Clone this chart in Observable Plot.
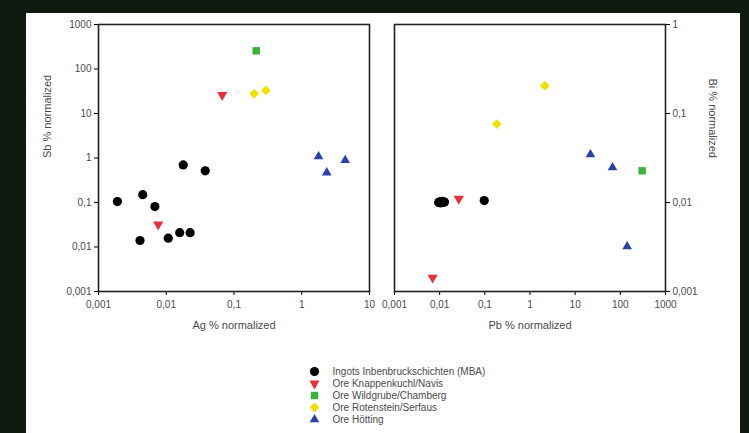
<!DOCTYPE html>
<html>
<head>
<meta charset="utf-8">
<script src="https://cdn.jsdelivr.net/npm/d3@7"></script>
<script src="https://cdn.jsdelivr.net/npm/@observablehq/plot@0.6"></script>
<style>
  html, body { margin: 0; padding: 0; }
  body { width: 749px; height: 433px; background: #0e1a10; position: relative; overflow: hidden; font-family: "Liberation Sans", Arial, sans-serif; }
  #panel { position: absolute; left: 26px; top: 13px; width: 714px; height: 420px; background: #ffffff; }
  .plot { position: absolute; top: 0; }
  #left { left: 0px; }
  #right { left: 380px; }
  #legend { position: absolute; left: 300px; top: 360px; }
</style>
</head>
<body>
<div id="panel"></div>
<div id="left" class="plot"></div>
<div id="right" class="plot"></div>
<div id="legend"></div>
<script>
// ---- series ----
const seriesNames = [
  "Ingots Inbenbruckschichten (MBA)",
  "Ore Knappenkuchl/Navis",
  "Ore Wildgrube/Chamberg",
  "Ore Rotenstein/Serfaus",
  "Ore Hötting"
];
const seriesColors = ["#000000", "#e8303a", "#3db33d", "#f2e000", "#2a42a6"];

// ---- left panel: Ag vs Sb ----
const agBlack  = [0.0019, 0.0045, 0.0068, 0.0041, 0.0107, 0.0158, 0.0225, 0.0178, 0.0376];
const sbBlack  = [0.105, 0.15, 0.081, 0.014, 0.0158, 0.021, 0.021, 0.70, 0.515];
const agRed    = [0.067, 0.0076];
const sbRed    = [26, 0.032];
const agGreen  = [0.213];
const sbGreen  = [256];
const agYellow = [0.199, 0.295];
const sbYellow = [27.7, 32.9];
const agBlue   = [1.77, 2.34, 4.38];
const sbBlue   = [1.08, 0.47, 0.89];

// ---- right panel: Pb vs Bi ----
const pbBlack  = [0.0095, 0.0100, 0.0104, 0.0108, 0.0112, 0.0117, 0.0122, 0.0128, 0.097];
const biBlack  = [0.0100, 0.0102, 0.0099, 0.0101, 0.0103, 0.0100, 0.0102, 0.0101, 0.0105];
const pbRed    = [0.0265, 0.0070];
const biRed    = [0.011, 0.00143];
const pbGreen  = [304];
const biGreen  = [0.0227];
const pbYellow = [2.13, 0.184];
const biYellow = [0.205, 0.076];
const pbBlue   = [21.8, 67, 141.6];
const biBlue   = [0.0346, 0.0247, 0.0032];

// ---- ticks ----
const agTicks = [0.001, 0.01, 0.1, 1, 10];
const agTickLabels = ["0,001", "0,01", "0,1", "1", "10"];
const sbTicks = [0.001, 0.01, 0.1, 1, 10, 100, 1000];
const sbTickLabels = ["0,001", "0,01", "0,1", "1", "10", "100", "1000"];
const pbTicks = [0.001, 0.01, 0.1, 1, 10, 100, 1000];
const pbTickLabels = ["0,001", "0,01", "0,1", "1", "10", "100", "1000"];
const biTicks = [0.001, 0.01, 0.1, 1];
const biTickLabels = ["0,001", "0,01", "0,1", "1"];

// ---- symbols ----
const triangleDown = {
  draw(context, size) {
    const y = -Math.sqrt(size / (Math.sqrt(3) * 3));
    const s3 = Math.sqrt(3);
    context.moveTo(0, -y * 2);
    context.lineTo(-s3 * y, y);
    context.lineTo(s3 * y, y);
    context.closePath();
  }
};
const seriesSymbols = ["circle", triangleDown, "square", "diamond2", "triangle"];
const seriesR = [4.6, 3.8, 4.2, 4.4, 3.6];

function rows(xs, ys, s) { return xs.map((x, i) => ({x, y: ys[i], s})); }

const leftData = [
  rows(agBlack, sbBlack, 0), rows(agRed, sbRed, 1), rows(agGreen, sbGreen, 2),
  rows(agYellow, sbYellow, 3), rows(agBlue, sbBlue, 4)
];
const rightData = [
  rows(pbBlack, biBlack, 0), rows(pbRed, biRed, 1), rows(pbGreen, biGreen, 2),
  rows(pbYellow, biYellow, 3), rows(pbBlue, biBlue, 4)
];

function fmt(ticks, labels) { return d => { const i = ticks.findIndex(t => Math.abs(Math.log10(t) - Math.log10(d)) < 1e-6); return i >= 0 ? labels[i] : ""; }; }

const textColor = "#4a4a4a";
const baseStyle = {background: "transparent", fontFamily: "Liberation Sans, Arial, sans-serif", fontSize: "10px", color: "#000", overflow: "visible"};

function dotMarks(data) {
  return data.map((d, i) => Plot.dot(d, {x: "x", y: "y", symbol: seriesSymbols[i], r: seriesR[i], fill: seriesColors[i], stroke: "none"}));
}

const left = Plot.plot({
  width: 380, height: 340,
  marginLeft: 98, marginRight: 11, marginTop: 24, marginBottom: 49,
  style: baseStyle,
  x: {type: "log", domain: [0.001, 10]},
  y: {type: "log", domain: [0.001, 1000]},
  marks: [
    Plot.axisX({ticks: agTicks, tickFormat: fmt(agTicks, agTickLabels), tickSize: 4, tickPadding: 5, label: null, fill: textColor}),
    Plot.axisY({ticks: sbTicks, tickFormat: fmt(sbTicks, sbTickLabels), tickSize: 4, tickPadding: 3, label: null, fill: textColor}),
    ...dotMarks(leftData),
    Plot.frame({stroke: "#222", strokeWidth: 1.6}),
    Plot.text(["Ag % normalized"], {text: d => d, frameAnchor: "bottom", dy: 37, fill: textColor, fontSize: 11}),
    Plot.text(["Sb % normalized"], {text: d => d, frameAnchor: "left", dx: -51, rotate: -90, fill: textColor, fontSize: 11})
  ]
});
document.getElementById("left").appendChild(left);

const right = Plot.plot({
  width: 369, height: 340,
  marginLeft: 14, marginRight: 84, marginTop: 24, marginBottom: 49,
  style: baseStyle,
  x: {type: "log", domain: [0.001, 1000]},
  y: {type: "log", domain: [0.001, 1]},
  marks: [
    Plot.axisX({ticks: pbTicks, tickFormat: fmt(pbTicks, pbTickLabels), tickSize: 4, tickPadding: 5, label: null, fill: textColor}),
    Plot.axisY({anchor: "right", ticks: biTicks, tickFormat: fmt(biTicks, biTickLabels), tickSize: 4, tickPadding: 3, label: null, fill: textColor}),
    ...dotMarks(rightData),
    Plot.frame({stroke: "#222", strokeWidth: 1.6}),
    Plot.text(["Pb % normalized"], {text: d => d, frameAnchor: "bottom", dy: 37, fill: textColor, fontSize: 11}),
    Plot.text(["Bi % normalized"], {text: d => d, frameAnchor: "right", dx: 47, rotate: 90, fill: textColor, fontSize: 11})
  ]
});
document.getElementById("right").appendChild(right);

// ---- legend ----
const legendRows = seriesNames.map((name, i) => ({name, i}));
const legend = Plot.plot({
  width: 260, height: 72,
  margin: 0,
  style: baseStyle,
  x: {domain: [0, 1], range: [14, 200], axis: null},
  y: {type: "point", domain: seriesNames, range: [9, 60], padding: 0, axis: null},
  marks: [
    ...legendRows.map(r => Plot.dot([r], {x: () => 0, y: "name", symbol: seriesSymbols[r.i], r: seriesR[r.i], fill: seriesColors[r.i], stroke: "none"})),
    Plot.text(legendRows, {x: () => 0, y: "name", text: "name", dx: 18, textAnchor: "start", fill: textColor, fontSize: 10})
  ]
});
document.getElementById("legend").appendChild(legend);
</script>
</body>
</html>
